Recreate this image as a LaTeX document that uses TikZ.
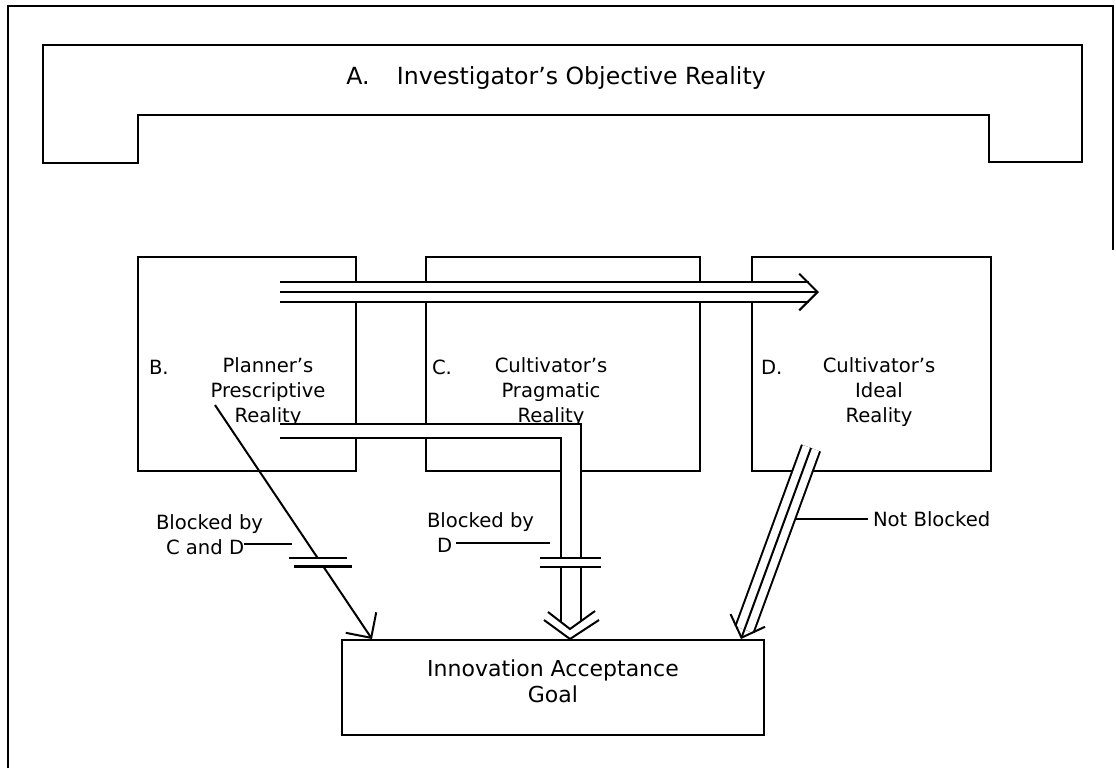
\documentclass[tikz,border=0pt]{standalone}
\usepackage{fontspec}
\setmainfont{DejaVu Sans}
\usetikzlibrary{arrows.meta, positioning, calc}

\begin{document}
\begin{tikzpicture}[
    x=0.5pt, y=-0.5pt,
    line width=1pt,
    font=\fontsize{9.8}{12.5}\selectfont,
    reality/.style={rectangle, draw, minimum height=107pt, inner sep=0pt},
    txt/.style={align=center, inner sep=0pt},
    big/.style={align=center, inner sep=0pt, font=\fontsize{11}{12.8}\selectfont},
    tag/.style={anchor=west, inner sep=0pt},
    note/.style={align=left, anchor=west, inner sep=0pt},
    barb/.style={-{Straight Barb[angle=90:13pt]}},
    triple/.style={double, double distance=8.6pt, shorten >=5pt},
    bar/.style={line width=1.2pt}
]
\useasboundingbox (0,0) rectangle (1116,768);

% frame
\draw (8,768) -- (8,6) -- (1113,6) -- (1113,250);

% A: investigator
\draw (43,45) -- (1082,45) -- (1082,162) -- (989,162) -- (989,115) -- (138,115) -- (138,163) -- (43,163) -- cycle;
\node[big, font=\fontsize{11.8}{13}\selectfont] (objective) at (556,78) {A.\hspace{10pt} Investigator's Objective Reality};

% B, C, D and goal
\node[reality, minimum width=109pt] (planner) at (247,364) {};
\node[reality, minimum width=137pt] (pragmatic) at (563,364) {};
\node[reality, minimum width=119.5pt] (ideal) at (871.5,364) {};
\node[reality, minimum width=211pt, minimum height=47.5pt] (goal) at (553,687.5) {};

\node[tag] (btag) at (148,367) {B.};
\node[txt] (btext) at (268,392) {Planner's\\Prescriptive\\Reality};
\node[tag] (ctag) at (431,367) {C.};
\node[txt] (ctext) at (551,392) {Cultivator's\\Pragmatic\\Reality};
\node[tag] (dtag) at (760,367) {D.};
\node[txt] (dtext) at (879,392) {Cultivator's\\Ideal\\Reality};
\node[big] (goaltext) at (553,681) {Innovation Acceptance\\Goal};

% B to D
\coordinate (tstart) at (280,292);
\coordinate (ttip) at (819,292);
\draw[triple] (tstart) -- (ttip);
\draw[barb] (tstart) -- (ttip);

% B to goal, blocked by C and D
\coordinate (bstart) at (215,405);
\coordinate (btip) at ([xshift=15.5pt]goal.north west);
\draw (bstart) -- ($(bstart)!0.655!(btip)$) coordinate (bcut1);
\draw[barb] ($(bstart)!0.69!(btip)$) coordinate (bcut2) -- (btip);
\draw[bar] ([xshift=-14.5pt]bcut1) -- ([xshift=14.5pt]bcut1);
\draw[bar] ([xshift=-14.5pt]bcut2) -- ([xshift=14.5pt]bcut2);

% B through C to goal, blocked by D
\coordinate (ptip) at ([xshift=8.5pt]goal.north);
\fill[white] (280,424) -| (581,623) -- (561,623) |- (280,438) -- cycle;
\draw (280,424) -| (581,558);
\draw (280,438) -| (561,558);
\draw (581,567) -- (581,622);
\draw (561,567) -- (561,622);
\draw[bar] (540,558) -- (601,558);
\draw[bar] (540,567) -- (601,567);
\draw ([shift={(-26,-19)}]ptip) -- (ptip) -- ([shift={(29,-19)}]ptip);
\draw ([shift={(-22,-27)}]ptip) -- ([shift={(0,-10)}]ptip) -- ([shift={(25,-28)}]ptip);

% D to goal, not blocked
\coordinate (dstart) at (811,448);
\coordinate (dtip) at ([xshift=-12pt]goal.north east);
\draw[triple] (dstart) -- (dtip);
\draw[barb] (dstart) -- (dtip);

% labels
\node[note] (cdnote) at (155,535) {Blocked by\\\hspace*{5pt}C and D};
\node[note] (dnote) at (426,533) {Blocked by\\\hspace*{5pt}D};
\node[tag] (nbnote) at (872,519) {Not Blocked};
\draw (244,544) -- (292,544);
\draw (456,543) -- (550,543);
\draw ([xshift=-2pt]nbnote.west) -- ++(-72,0);

\end{tikzpicture}
\end{document}
